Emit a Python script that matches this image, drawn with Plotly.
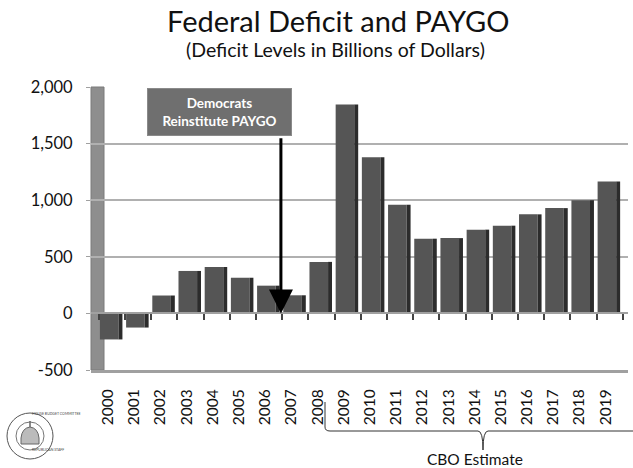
import plotly.graph_objects as go

years = [str(y) for y in range(2000, 2020)]
deficits = [-230, -125, 158, 375, 410, 315, 245, 160, 455, 1845,
            1380, 960, 660, 665, 740, 775, 875, 930, 1000, 1165]
y_tickvals = [-500, 0, 500, 1000, 1500, 2000]
y_ticktext = ["-500", "0", "500", "1,000", "1,500", "2,000"]

title_text = "Federal Deficit and PAYGO"
subtitle_text = "(Deficit Levels in Billions of Dollars)"
box_text = "<b>Democrats<br>Reinstitute PAYGO</b>"
bracket_text = "CBO Estimate"
paygo_year_pos = 6.45
arrow_top = 1560

FONT = "Lato"
W, H = 633, 468
ML, MR, MT, MB = 91, 5, 87, 98
PW, PH = W - ML - MR, H - MT - MB


def px_x(px):
    return (px - ML) / PW


def px_y(py):
    return (H - MB - py) / PH


fig = go.Figure()

# front faces
fig.add_trace(go.Bar(
    x=years, y=deficits, width=0.71, offset=-0.46,
    marker=dict(color="#555555", line=dict(width=0)),
    hoverinfo="x+y", showlegend=False,
))
# darker side faces (3D look)
fig.add_trace(go.Bar(
    x=years, y=deficits, width=0.15, offset=0.25,
    marker=dict(color="#2c2c2c", line=dict(width=0)),
    xaxis="x2", hoverinfo="skip", showlegend=False,
))

shapes = [
    # gray back wall on the left
    dict(type="rect", xref="paper", yref="paper", x0=0, x1=px_x(104), y0=0, y1=1,
         fillcolor="#8e8e8e", line=dict(color="#7a7a7a", width=1), layer="below"),
]

# bracket for CBO estimate (decorative)
bx0, bx1, by0, by1, bmid, btip = 325, 633, 402, 431, 483, 450
shapes.append(dict(
    type="path", xref="paper", yref="paper",
    path=(f"M {px_x(bx0)},{px_y(by0)} L {px_x(bx0)},{px_y(by1-4)} "
          f"Q {px_x(bx0)},{px_y(by1)} {px_x(bx0+5)},{px_y(by1)} "
          f"L {px_x(bmid-5)},{px_y(by1)} Q {px_x(bmid)},{px_y(by1)} {px_x(bmid)},{px_y(btip)} "
          f"Q {px_x(bmid)},{px_y(by1)} {px_x(bmid+5)},{px_y(by1)} L {px_x(bx1)},{px_y(by1)}"),
    line=dict(color="#333333", width=1),
))

# logo seal (decorative)
cx, cy, r = 30, 436, 23
shapes.append(dict(type="circle", xref="paper", yref="paper",
                   x0=px_x(cx - r), x1=px_x(cx + r), y0=px_y(cy + r), y1=px_y(cy - r),
                   line=dict(color="#555555", width=1), fillcolor="white"))
r2 = 14
shapes.append(dict(type="circle", xref="paper", yref="paper",
                   x0=px_x(cx - r2), x1=px_x(cx + r2), y0=px_y(cy + r2), y1=px_y(cy - r2),
                   line=dict(color="#777777", width=1), fillcolor="white"))
shapes.append(dict(type="path", xref="paper", yref="paper",
                   path=(f"M {px_x(cx-9)},{px_y(cy+8)} L {px_x(cx-9)},{px_y(cy+2)} "
                         f"Q {px_x(cx-8)},{px_y(cy-8)} {px_x(cx)},{px_y(cy-9)} "
                         f"Q {px_x(cx+8)},{px_y(cy-8)} {px_x(cx+9)},{px_y(cy+2)} "
                         f"L {px_x(cx+9)},{px_y(cy+8)} Z"),
                   line=dict(color="#666666", width=1), fillcolor="#bbbbbb"))
shapes.append(dict(type="line", xref="paper", yref="paper",
                   x0=px_x(cx), x1=px_x(cx), y0=px_y(cy - 9), y1=px_y(cy - 15),
                   line=dict(color="#666666", width=1.5)))

annotations = [
    dict(text=title_text, xref="paper", yref="paper", x=px_x(338), y=px_y(20),
         showarrow=False, font=dict(family=FONT, size=29, color="#111111"),
         xanchor="center", yanchor="middle"),
    dict(text=subtitle_text, xref="paper", yref="paper", x=px_x(335), y=px_y(50),
         showarrow=False, font=dict(family=FONT, size=19.5, color="#111111"),
         xanchor="center", yanchor="middle"),
    dict(text=box_text, xref="paper", yref="paper", x=px_x(219.5), y=px_y(112),
         showarrow=False, font=dict(family=FONT, size=13.5, color="white"),
         bgcolor="#6f6f6f", bordercolor="#8a8a8a", borderwidth=1, borderpad=0,
         width=143, height=46, xanchor="center", yanchor="middle"),
    dict(x=paygo_year_pos, y=0, xref="x", yref="y",
         ax=paygo_year_pos, ay=arrow_top, axref="x", ayref="y",
         showarrow=True, arrowhead=2, arrowsize=1.6, arrowwidth=3, arrowcolor="black",
         text=""),
    dict(text=bracket_text, xref="paper", yref="paper", x=px_x(475), y=px_y(459),
         showarrow=False, font=dict(family=FONT, size=15.5, color="#111111"),
         xanchor="center", yanchor="middle"),
    dict(text="HOUSE BUDGET COMMITTEE", xref="paper", yref="paper", x=px_x(cx), y=px_y(cy - 18),
         showarrow=False, font=dict(family=FONT, size=3.5, color="#444444")),
    dict(text="REPUBLICAN STAFF", xref="paper", yref="paper", x=px_x(cx), y=px_y(cy + 18),
         showarrow=False, font=dict(family=FONT, size=3.5, color="#444444")),
]

fig.update_layout(
    width=W, height=H,
    margin=dict(l=ML, r=MR, t=MT, b=MB, pad=0),
    paper_bgcolor="white", plot_bgcolor="white",
    barmode="overlay",
    font=dict(family=FONT, color="#111111"),
    shapes=shapes, annotations=annotations,
    xaxis=dict(
        type="category", categoryorder="array", categoryarray=years,
        range=[-0.8, 19.7], showgrid=False, zeroline=False,
        showline=True, linecolor="#a0a0a0", linewidth=3,
        tickangle=-90, ticks="outside", ticklen=10, tickcolor="rgba(0,0,0,0)",
        ticklabelshift=-4,
        tickfont=dict(family=FONT, size=15.5, color="#111111"),
    ),
    xaxis2=dict(
        type="category", matches="x", overlaying="x", anchor="free", position=0.2,
        showgrid=False, zeroline=False, showticklabels=False,
        showline=True, linecolor="#a0a0a0", linewidth=1.5,
        ticks="outside", ticklen=6, tickcolor="#444444", tickwidth=1.5,
        tickson="boundaries",
    ),
    yaxis=dict(
        range=[-500, 2000], tickvals=y_tickvals, ticktext=y_ticktext,
        showgrid=True, gridcolor="#b0b0b0", gridwidth=1.5,
        zeroline=False, showline=False,
        ticks="outside", ticklen=4, tickcolor="#a0a0a0",
        ticklabelstandoff=10,
        tickfont=dict(family=FONT, size=16.5, color="#111111"),
    ),
)

fig.write_html("out.html")
